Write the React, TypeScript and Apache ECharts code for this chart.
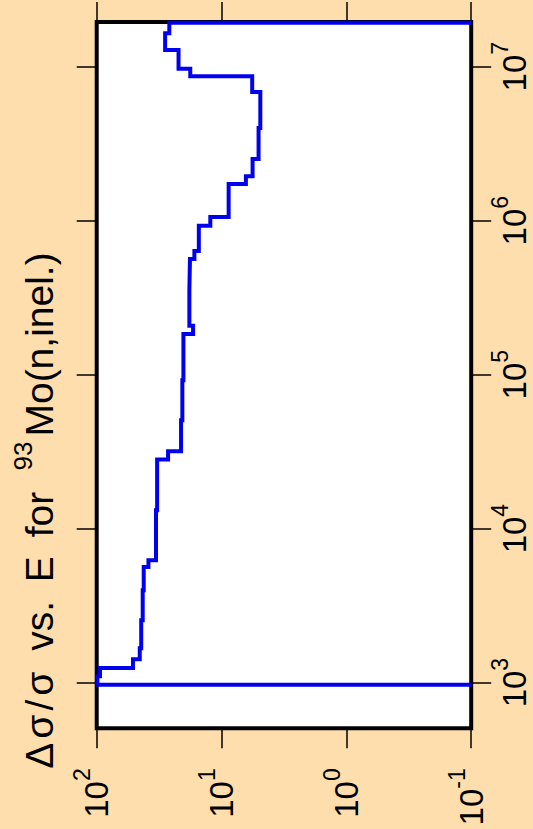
import React, { useEffect, useRef } from 'react';
import * as echarts from 'echarts';

// Energy group boundaries (eV), bottom to top
const energyBounds = [
  970, 1100, 1245, 1417, 1670, 2540, 3980, 5640, 6230, 13180, 28130, 31840,
  50650, 92100, 183400, 207600, 354000, 562600, 636000, 926800, 1.055e6,
  1.729e6, 1.941e6, 2.513e6, 3.997e6, 6.853e6, 8.677e6, 9.7e6, 1.283e7,
  1.648e7, 1.93e7,
];
// Relative uncertainty (%) in each group
const relUnc = [
  98.7, 94.1, 51.2, 45.2, 44.0, 42.8, 42.0, 38.5, 33.5, 32.8, 26.8, 21.1,
  20.6, 20.2, 16.9, 18.1, 17.9, 16.5, 15.2, 12.3, 8.77, 6.38, 5.64, 5.05,
  4.89, 5.68, 17.8, 22.1, 28.3, 26.2,
];
const energyTicks = [1e3, 1e4, 1e5, 1e6, 1e7];
const uncTicks = [0.1, 1, 10, 100];
const energyRange = [505, 1.95e7];
const uncRange = [0.1, 100];
// outside the groups the uncertainty is zero: drawn at the lower edge of the log axis
const zeroLevel = uncRange[0];
const titleParts = ['Δ', 'σ', '/', 'σ', 'vs.', 'E', 'for', '93', 'Mo(n,inel.)'];

const FONT = 'Liberation Sans, Arial, Helvetica, sans-serif';

function buildPath(): number[][] {
  const pts: number[][] = [[zeroLevel, energyBounds[0]]];
  relUnc.forEach((v, i) => {
    pts.push([v, energyBounds[i]]);
    pts.push([v, energyBounds[i + 1]]);
  });
  pts.push([zeroLevel, energyBounds[energyBounds.length - 1]]);
  return pts;
}

const powFormatter = (v: number) => {
  const e = Math.round(Math.log10(v));
  return `{b|10}{s|${e}}`;
};

const labelRich = {
  b: { fontSize: 33, verticalAlign: 'middle', fontFamily: FONT, color: '#000' },
  s: { fontSize: 23, lineHeight: 52, verticalAlign: 'top', fontFamily: FONT, color: '#000' },
};

const tickStyle = { color: '#000', width: 1.5 };

function titleText() {
  const [d, s1, sl, s2, vs, e, f, sup, rest] = titleParts;
  return (
    `{g|${d}}{g|${s1}}{g|${sl}}{g|${s2}}{w| }{t|${vs}}{w| }{t|${e}}{w| }` +
    `{t|${f}}{w| }{s|${sup}}{t|${rest}}`
  );
}

export default function App() {
  const ref = useRef<HTMLDivElement>(null);
  useEffect(() => {
    if (!ref.current) return;
    const chart = echarts.init(ref.current, null, { renderer: 'svg' });
    const tStyle = { fontSize: 39, verticalAlign: 'middle', fontFamily: FONT, fill: '#000' };
    chart.setOption({
      animation: false,
      backgroundColor: '#FFDEAD',
      grid: {
        left: 96.7,
        right: 61.8,
        top: 22,
        bottom: 100.7,
        show: true,
        backgroundColor: '#ffffff',
        borderColor: '#000000',
        borderWidth: 4,
        containLabel: false,
        outerBoundsMode: 'none',
      },
      xAxis: [
        {
          type: 'log',
          logBase: 10,
          min: uncRange[0],
          max: uncRange[1],
          inverse: true,
          position: 'bottom',
          axisLine: { show: false, onZero: false },
          axisTick: { show: true, length: 20, inside: false, lineStyle: tickStyle, customValues: uncTicks },
          axisLabel: {
            show: true,
            rotate: 90,
            margin: 40,
            customValues: uncTicks,
            formatter: powFormatter,
            rich: labelRich,
          },
          splitLine: { show: false },
          minorTick: { show: false },
        },
        {
          type: 'log',
          logBase: 10,
          min: uncRange[0],
          max: uncRange[1],
          inverse: true,
          position: 'top',
          axisLine: { show: false, onZero: false },
          axisTick: { show: true, length: 20, inside: false, lineStyle: tickStyle, customValues: uncTicks },
          axisLabel: { show: false },
          splitLine: { show: false },
        },
      ],
      yAxis: [
        {
          type: 'log',
          logBase: 10,
          min: energyRange[0],
          max: energyRange[1],
          position: 'right',
          axisLine: { show: false, onZero: false },
          axisTick: { show: true, length: 20, inside: false, lineStyle: tickStyle, customValues: energyTicks },
          axisLabel: {
            show: true,
            rotate: 90,
            margin: 17,
            customValues: energyTicks,
            formatter: powFormatter,
            rich: labelRich,
          },
          splitLine: { show: false },
        },
        {
          type: 'log',
          logBase: 10,
          min: energyRange[0],
          max: energyRange[1],
          position: 'left',
          axisLine: { show: false, onZero: false },
          axisTick: { show: true, length: 20, inside: false, lineStyle: tickStyle, customValues: energyTicks },
          axisLabel: { show: false },
          splitLine: { show: false },
        },
      ],
      series: [
        {
          type: 'line',
          xAxisIndex: 0,
          yAxisIndex: 0,
          data: buildPath(),
          showSymbol: false,
          symbol: 'none',
          clip: true,
          lineStyle: { color: '#0000EE', width: 4, join: 'miter', cap: 'butt' },
        },
      ],
      graphic: [
        {
          type: 'text',
          x: 39.5,
          y: 511.5,
          rotation: Math.PI / 2,
          style: {
            text: titleText(),
            rich: {
              t: tStyle,
              g: { ...tStyle, padding: [0, 2, 0, 2] },
              w: { ...tStyle, padding: [0, 4, 0, 4] },
              s: { fontSize: 26, lineHeight: 59, verticalAlign: 'top', padding: [0, 5, 0, 2.5], fontFamily: FONT, fill: '#000' },
            },
            align: 'center',
            verticalAlign: 'middle',
            fontSize: 39,
            fontFamily: FONT,
            fill: '#000',
          },
        },
      ],
    });
    return () => chart.dispose();
  }, []);
  return (
    <div
      ref={ref}
      style={{ position: 'fixed', left: 0, top: 0, width: 533, height: 829 }}
    />
  );
}
